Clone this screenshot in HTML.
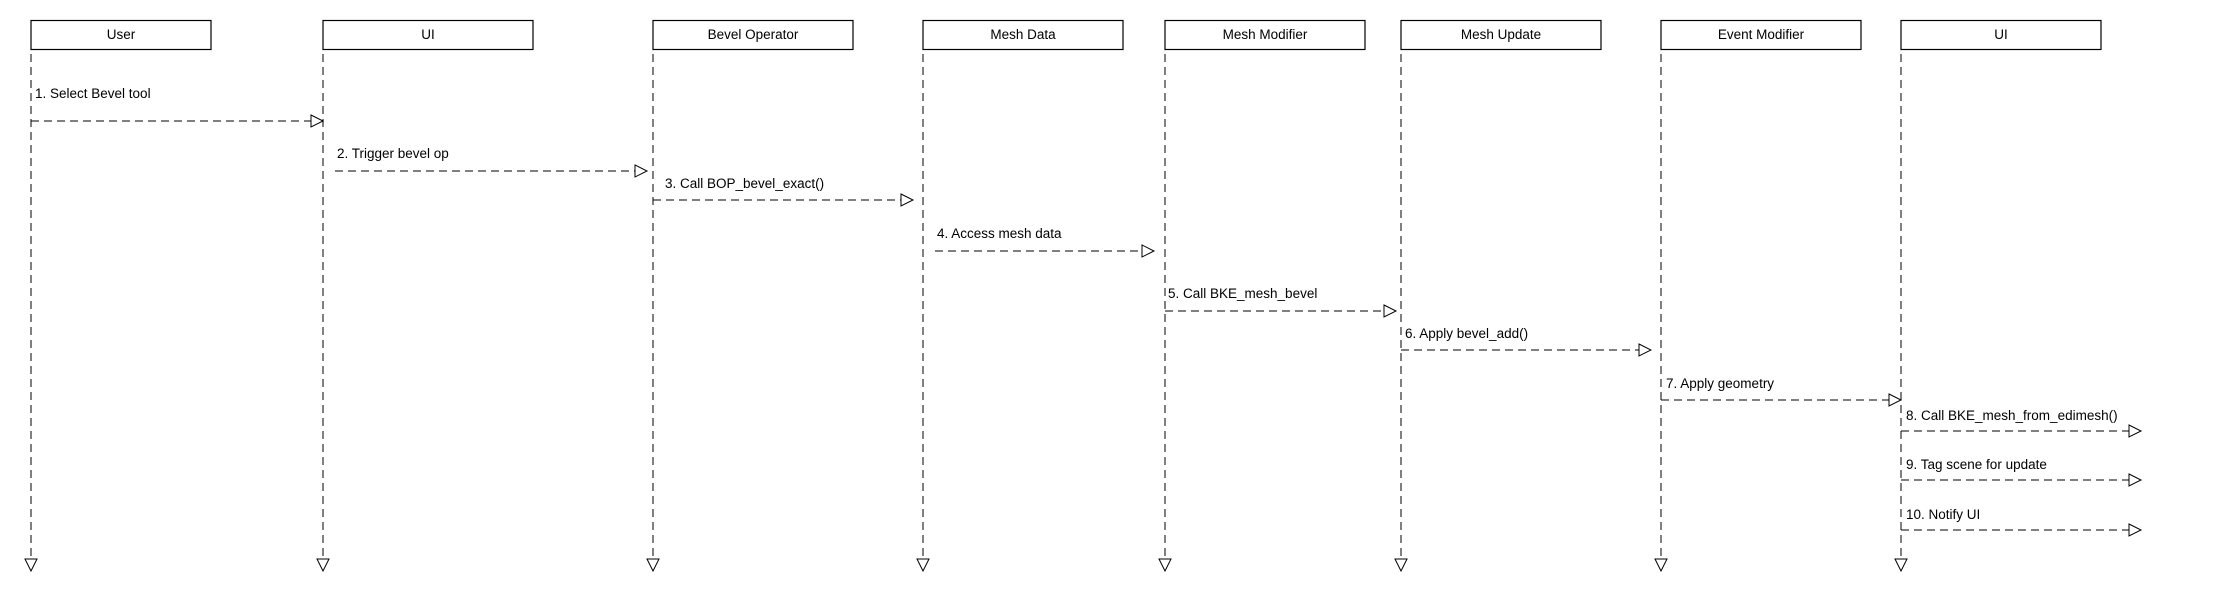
<!DOCTYPE html>
<html><head><meta charset="utf-8"><style>
html,body{margin:0;padding:0;background:#fff;}
svg{display:block;}
text{font-family:"Liberation Sans",Arial,sans-serif;font-size:13.5px;fill:#000;}
</style></head><body>
<svg width="2220" height="610" viewBox="0 0 2220 610" xmlns="http://www.w3.org/2000/svg">
<g fill="#fff" stroke="#000" stroke-width="1.2">
<rect x="31" y="20.5" width="180" height="29"/>
<rect x="323" y="20.5" width="210" height="29"/>
<rect x="653" y="20.5" width="200" height="29"/>
<rect x="923" y="20.5" width="200" height="29"/>
<rect x="1165" y="20.5" width="200" height="29"/>
<rect x="1401" y="20.5" width="200" height="29"/>
<rect x="1661" y="20.5" width="200" height="29"/>
<rect x="1901" y="20.5" width="200" height="29"/>
</g>
<g text-anchor="middle">
<text x="121" y="39">User</text>
<text x="428" y="39">UI</text>
<text x="753" y="39">Bevel Operator</text>
<text x="1023" y="39">Mesh Data</text>
<text x="1265" y="39">Mesh Modifier</text>
<text x="1501" y="39">Mesh Update</text>
<text x="1761" y="39">Event Modifier</text>
<text x="2001" y="39">UI</text>
</g>
<g stroke="#000" stroke-width="1" stroke-dasharray="8,5" fill="none">
<line x1="31" y1="54" x2="31" y2="558"/>
<line x1="323" y1="54" x2="323" y2="558"/>
<line x1="653" y1="54" x2="653" y2="558"/>
<line x1="923" y1="54" x2="923" y2="558"/>
<line x1="1165" y1="54" x2="1165" y2="558"/>
<line x1="1401" y1="54" x2="1401" y2="558"/>
<line x1="1661" y1="54" x2="1661" y2="558"/>
<line x1="1901" y1="54" x2="1901" y2="558"/>
<!-- messages -->
<line x1="31" y1="121" x2="311" y2="121"/>
<line x1="335" y1="171" x2="635" y2="171"/>
<line x1="653" y1="200" x2="901" y2="200"/>
<line x1="935" y1="251" x2="1142" y2="251"/>
<line x1="1165" y1="311" x2="1384" y2="311"/>
<line x1="1401" y1="350" x2="1639" y2="350"/>
<line x1="1661" y1="400" x2="1889" y2="400"/>
<line x1="1901" y1="431" x2="2129" y2="431"/>
<line x1="1901" y1="480" x2="2129" y2="480"/>
<line x1="1901" y1="530" x2="2129" y2="530"/>
</g>
<g fill="#fff" stroke="#000" stroke-width="1">
<path d="M25,559 L37,559 L31,571 Z"/>
<path d="M317,559 L329,559 L323,571 Z"/>
<path d="M647,559 L659,559 L653,571 Z"/>
<path d="M917,559 L929,559 L923,571 Z"/>
<path d="M1159,559 L1171,559 L1165,571 Z"/>
<path d="M1395,559 L1407,559 L1401,571 Z"/>
<path d="M1655,559 L1667,559 L1661,571 Z"/>
<path d="M1895,559 L1907,559 L1901,571 Z"/>
<path d="M311,115 L323,121 L311,127 Z"/>
<path d="M635,165 L647,171 L635,177 Z"/>
<path d="M901,194 L913,200 L901,206 Z"/>
<path d="M1142,245 L1154,251 L1142,257 Z"/>
<path d="M1384,305 L1396,311 L1384,317 Z"/>
<path d="M1639,344 L1651,350 L1639,356 Z"/>
<path d="M1889,394 L1901,400 L1889,406 Z"/>
<path d="M2129,425 L2141,431 L2129,437 Z"/>
<path d="M2129,474 L2141,480 L2129,486 Z"/>
<path d="M2129,524 L2141,530 L2129,536 Z"/>
</g>
<text x="35" y="98">1. Select Bevel tool</text>
<text x="337" y="158">2. Trigger bevel op</text>
<text x="665" y="188">3. Call BOP_bevel_exact()</text>
<text x="937" y="238">4. Access mesh data</text>
<text x="1168" y="298">5. Call BKE_mesh_bevel</text>
<text x="1405" y="338">6. Apply bevel_add()</text>
<text x="1666" y="388">7. Apply geometry</text>
<text x="1906" y="420">8. Call BKE_mesh_from_edimesh()</text>
<text x="1906" y="469">9. Tag scene for update</text>
<text x="1906" y="519">10. Notify UI</text>
</svg>
</body></html>
